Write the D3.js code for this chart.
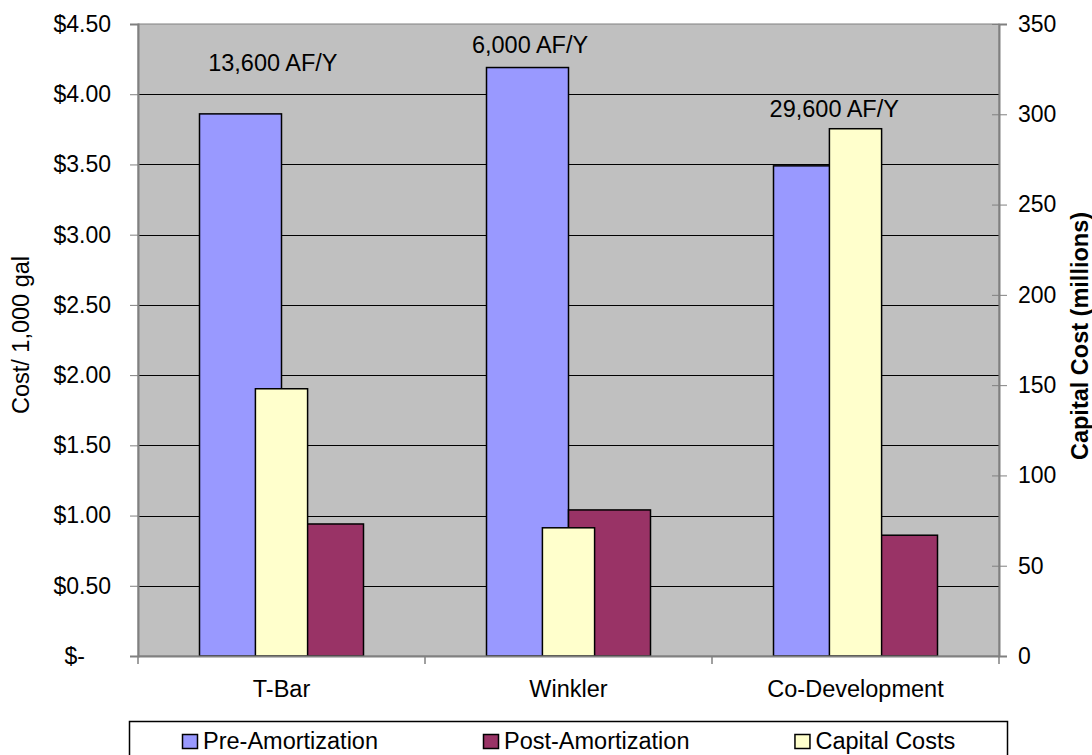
<!DOCTYPE html>
<html>
<head>
<meta charset="utf-8">
<script src="https://cdn.jsdelivr.net/npm/d3@7"></script>
<style>
  body { margin: 0; background: #fff; }
  svg { font-family: "Liberation Sans", Arial, sans-serif; }
</style>
</head>
<body>
<svg id="chart"></svg>
<script>
let width = 1092, height = 755;

// data
var categories = ["T-Bar", "Winkler", "Co-Development"];
var preAmort = [3.86, 4.19, 3.49];     // $ / 1,000 gal
var postAmort = [0.94, 1.04, 0.86];    // $ / 1,000 gal
var capitalCosts = [148, 71, 292];     // millions
var leftTicks = [0, 0.5, 1, 1.5, 2, 2.5, 3, 3.5, 4, 4.5];
var rightTicks = [0, 50, 100, 150, 200, 250, 300, 350];
var yieldLabels = ["13,600 AF/Y", "6,000 AF/Y", "29,600 AF/Y"];
var yieldLabelLevel = [4.165, 4.29, 3.836];   // in $ units, where the text sits
var yieldLabelShift = [-0.03, -0.134, -0.074]; // in category widths

var series = [
  { name: "Pre-Amortization", color: "#9999FF" },
  { name: "Post-Amortization", color: "#993366" },
  { name: "Capital Costs", color: "#FFFFCC" }
];

var plot = { left: 138, right: 999, top: 24, bottom: 656 };
var fs = 23.5;

const svg = d3.select("#chart")
  .attr("width", width)
  .attr("height", height);

// scales
var x = d3.scaleBand()
  .domain(categories)
  .range([plot.left, plot.right]);

// primary series sit side by side, gap width 150%
var xInner = d3.scaleBand()
  .domain(["pre", "post"])
  .range([0, x.step()])
  .paddingInner(0)
  .paddingOuter(0.75);

// secondary axis series alone in its category, gap width 450%
var capPad = 1 - 1 / 5.5;
var xCap = d3.scaleBand()
  .domain(categories)
  .range([plot.left, plot.right])
  .paddingInner(capPad)
  .paddingOuter(capPad / 2);

var yLeft = d3.scaleLinear().domain([0, 4.5]).range([plot.bottom, plot.top]);
var yRight = d3.scaleLinear().domain([0, 350]).range([plot.bottom, plot.top]);

// plot area
svg.append("rect")
  .attr("x", plot.left)
  .attr("y", plot.top)
  .attr("width", plot.right - plot.left)
  .attr("height", plot.bottom - plot.top)
  .attr("fill", "#C0C0C0")
  .attr("stroke", "#808080")
  .attr("stroke-width", 1);

// gridlines
svg.append("g")
  .selectAll("line")
  .data(leftTicks.filter(d => d > 0 && d < 4.5))
  .join("line")
  .attr("x1", plot.left)
  .attr("x2", plot.right)
  .attr("y1", d => Math.round(yLeft(d)) + 0.5)
  .attr("y2", d => Math.round(yLeft(d)) + 0.5)
  .attr("stroke", "#000")
  .attr("stroke-width", 1);

// primary bars
var primary = [
  { key: "pre", values: preAmort, color: series[0].color },
  { key: "post", values: postAmort, color: series[1].color }
];
primary.forEach(s => {
  svg.append("g")
    .selectAll("rect")
    .data(categories)
    .join("rect")
    .attr("x", (c) => x(c) + xInner(s.key))
    .attr("y", (c, i) => yLeft(s.values[i]))
    .attr("width", xInner.bandwidth())
    .attr("height", (c, i) => yLeft(0) - yLeft(s.values[i]))
    .attr("fill", s.color)
    .attr("stroke", "#000")
    .attr("stroke-width", 1.5);
});

// secondary bars (drawn on top)
svg.append("g")
  .selectAll("rect")
  .data(categories)
  .join("rect")
  .attr("x", c => xCap(c))
  .attr("y", (c, i) => yRight(capitalCosts[i]))
  .attr("width", xCap.bandwidth())
  .attr("height", (c, i) => yRight(0) - yRight(capitalCosts[i]))
  .attr("fill", series[2].color)
  .attr("stroke", "#000")
  .attr("stroke-width", 1.5);

// left axis
var leftAxis = svg.append("g")
  .attr("transform", `translate(${plot.left},0)`)
  .call(d3.axisLeft(yLeft)
    .tickValues(leftTicks)
    .tickSize(8)
    .tickPadding(19)
    .tickFormat(d => d === 0 ? "$-" : d3.format("$.2f")(d)));
leftAxis.select(".domain").attr("stroke", "#808080").attr("stroke-width", 2);
leftAxis.selectAll(".tick line").attr("stroke", "#808080");
leftAxis.selectAll(".tick text")
  .attr("font-size", 23)
  .attr("fill", "#000")
  .attr("dx", d => d === 0 ? -26 : 0);

// right axis
var rightAxis = svg.append("g")
  .attr("transform", `translate(${plot.right},0)`)
  .call(d3.axisRight(yRight)
    .tickValues(rightTicks)
    .tickSize(8)
    .tickPadding(11));
rightAxis.select(".domain").attr("stroke", "#808080").attr("stroke-width", 2);
rightAxis.selectAll(".tick line").attr("x1", -7).attr("stroke", "#808080");
rightAxis.selectAll(".tick text").attr("font-size", 23).attr("fill", "#000");

// bottom axis: labels at centres, ticks at category boundaries
var bottomAxis = svg.append("g")
  .attr("transform", `translate(0,${plot.bottom})`)
  .call(d3.axisBottom(x).tickSize(0).tickPadding(24));
bottomAxis.select(".domain").attr("stroke", "#808080").attr("stroke-width", 2);
bottomAxis.selectAll(".tick text").attr("font-size", fs).attr("fill", "#000");

var bounds = categories.map(c => x(c)).concat([x.range()[1]]);
svg.append("g")
  .selectAll("line")
  .data(bounds)
  .join("line")
  .attr("x1", d => d)
  .attr("x2", d => d)
  .attr("y1", plot.bottom)
  .attr("y2", plot.bottom + 8)
  .attr("stroke", "#808080")
  .attr("stroke-width", 1.5);

// yield labels
svg.append("g")
  .selectAll("text")
  .data(yieldLabels)
  .join("text")
  .attr("x", (d, i) => x(categories[i]) + x.bandwidth() / 2 + yieldLabelShift[i] * x.step())
  .attr("y", (d, i) => yLeft(yieldLabelLevel[i]))
  .attr("text-anchor", "middle")
  .attr("font-size", fs)
  .text(d => d);

// axis titles
svg.append("text")
  .attr("transform", "translate(29,335) rotate(-90)")
  .attr("text-anchor", "middle")
  .attr("font-size", fs)
  .text("Cost/ 1,000 gal");

svg.append("text")
  .attr("transform", "translate(1088,336) rotate(-90)")
  .attr("text-anchor", "middle")
  .attr("font-size", fs)
  .attr("font-weight", "bold")
  .text("Capital Cost (millions)");

// legend
var legend = svg.append("g");
legend.append("rect")
  .attr("x", 129.5)
  .attr("y", 721.5)
  .attr("width", 878)
  .attr("height", 50)
  .attr("fill", "#fff")
  .attr("stroke", "#000")
  .attr("stroke-width", 1.5);

var lx = 182;
series.forEach(s => {
  legend.append("rect")
    .attr("x", lx + 0.5)
    .attr("y", 734.5)
    .attr("width", 15)
    .attr("height", 14)
    .attr("fill", s.color)
    .attr("stroke", "#000")
    .attr("stroke-width", 1.5);
  var t = legend.append("text")
    .attr("x", lx + 21)
    .attr("y", 749)
    .attr("font-size", fs)
    .text(s.name);
  lx = lx + 21 + t.node().getComputedTextLength() + 105;
});
</script>
</body>
</html>
